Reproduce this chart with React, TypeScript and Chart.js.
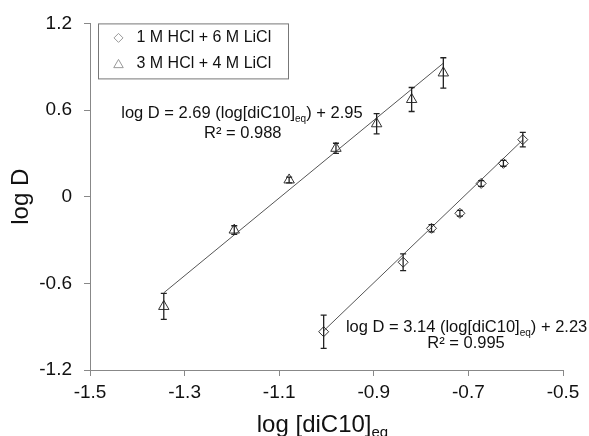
import React, { useEffect, useRef } from "react";
import { Chart, registerables } from "chart.js";

Chart.register(...registerables);

// 3 M HCl + 4 M LiCl (triangles)
const triX = [-1.344, -1.195, -1.079, -0.98, -0.894, -0.82, -0.753];
const triY = [-0.76, -0.231, 0.116, 0.335, 0.505, 0.673, 0.857];
const triErr = [0.09, 0.03, 0.02, 0.035, 0.07, 0.083, 0.105];

// 1 M HCl + 6 M LiCl (diamonds)
const diaX = [-1.006, -0.838, -0.778, -0.718, -0.673, -0.626, -0.585];
const diaY = [-0.935, -0.454, -0.219, -0.115, 0.092, 0.231, 0.395];
const diaErr = [0.115, 0.058, 0.025, 0.02, 0.02, 0.02, 0.05];

// Linear fits: log D = slope * log[diC10]eq + intercept
const triFit = { slope: 2.69, intercept: 2.95, r2: "0.988" };
const diaFit = { slope: 3.14, intercept: 2.23, r2: "0.995" };

const xTicks = [-1.5, -1.3, -1.1, -0.9, -0.7, -0.5];
const yTicks = [-1.2, -0.6, 0, 0.6, 1.2];

const legendLabels = ["1 M HCl + 6 M LiCl", "3 M HCl + 4 M LiCl"];

const FONT = "'Liberation Sans', Arial, Helvetica, sans-serif";

const toPoints = (xs: number[], ys: number[]) => xs.map((x, i) => ({ x, y: ys[i] }));

const fitLine = (xs: number[], fit: { slope: number; intercept: number }) => {
  const lo = Math.min(...xs);
  const hi = Math.max(...xs);
  return [
    { x: lo, y: fit.slope * lo + fit.intercept },
    { x: hi, y: fit.slope * hi + fit.intercept },
  ];
};

function drawTriangle(ctx: CanvasRenderingContext2D, x: number, y: number, r: number) {
  ctx.beginPath();
  for (let k = 0; k < 3; k++) {
    const a = -Math.PI / 2 + (k * 2 * Math.PI) / 3;
    const px = x + r * Math.cos(a);
    const py = y + r * Math.sin(a);
    if (k === 0) ctx.moveTo(px, py);
    else ctx.lineTo(px, py);
  }
  ctx.closePath();
  ctx.stroke();
}

function drawDiamond(ctx: CanvasRenderingContext2D, x: number, y: number, r: number) {
  ctx.beginPath();
  ctx.moveTo(x, y - r);
  ctx.lineTo(x + r, y);
  ctx.lineTo(x, y + r);
  ctx.lineTo(x - r, y);
  ctx.closePath();
  ctx.stroke();
}

// Text with an "eq" subscript: parts = [before, sub, after]
function drawSubText(
  ctx: CanvasRenderingContext2D,
  parts: [string, string, string],
  x: number,
  y: number,
  size: number,
  align: "left" | "center"
) {
  const subSize = Math.round(size * 0.62);
  ctx.font = `${size}px ${FONT}`;
  const w0 = ctx.measureText(parts[0]).width;
  const w2 = ctx.measureText(parts[2]).width;
  ctx.font = `${subSize}px ${FONT}`;
  const w1 = ctx.measureText(parts[1]).width;
  const total = w0 + w1 + w2;
  let sx = align === "center" ? x - total / 2 : x;
  ctx.textAlign = "left";
  ctx.textBaseline = "alphabetic";
  ctx.font = `${size}px ${FONT}`;
  ctx.fillText(parts[0], sx, y);
  sx += w0;
  ctx.font = `${subSize}px ${FONT}`;
  ctx.fillText(parts[1], sx, y + size * 0.22);
  sx += w1;
  ctx.font = `${size}px ${FONT}`;
  ctx.fillText(parts[2], sx, y);
}

const decorPlugin = {
  id: "decor",
  afterDatasetsDraw(chart: any) {
    const ctx: CanvasRenderingContext2D = chart.ctx;
    const xs = chart.scales.x;
    const ys = chart.scales.y;

    // error bars
    ctx.save();
    ctx.strokeStyle = "#222";
    ctx.lineWidth = 1.3;
    const bars: [number[], number[], number[]][] = [
      [triX, triY, triErr],
      [diaX, diaY, diaErr],
    ];
    bars.forEach(([bx, by, be]) => {
      bx.forEach((xv, i) => {
        const px = xs.getPixelForValue(xv);
        const top = ys.getPixelForValue(by[i] + be[i]);
        const bot = ys.getPixelForValue(by[i] - be[i]);
        ctx.beginPath();
        ctx.moveTo(px, top);
        ctx.lineTo(px, bot);
        ctx.moveTo(px - 3, top);
        ctx.lineTo(px + 3, top);
        ctx.moveTo(px - 3, bot);
        ctx.lineTo(px + 3, bot);
        ctx.stroke();
      });
    });
    ctx.restore();

    // fit equations
    ctx.save();
    ctx.fillStyle = "#111";
    const eqSize = 16.5;
    const fmt = (v: number) => v.toFixed(2);
    drawSubText(
      ctx,
      [`log D = ${fmt(triFit.slope)} (log[diC10]`, "eq", `) + ${fmt(triFit.intercept)}`],
      xs.getPixelForValue(-1.434),
      ys.getPixelForValue(0.545),
      eqSize,
      "left"
    );
    ctx.font = `${eqSize}px ${FONT}`;
    ctx.textAlign = "center";
    ctx.textBaseline = "alphabetic";
    ctx.fillText(`R² = ${triFit.r2}`, xs.getPixelForValue(-1.177), ys.getPixelForValue(0.405));
    drawSubText(
      ctx,
      [`log D = ${fmt(diaFit.slope)} (log[diC10]`, "eq", `) + ${fmt(diaFit.intercept)}`],
      xs.getPixelForValue(-0.959),
      ys.getPixelForValue(-0.94),
      eqSize,
      "left"
    );
    ctx.font = `${eqSize}px ${FONT}`;
    ctx.textAlign = "center";
    ctx.fillText(`R² = ${diaFit.r2}`, xs.getPixelForValue(-0.705), ys.getPixelForValue(-1.05));
    ctx.restore();

    // legend
    const area = chart.chartArea;
    ctx.save();
    const lx = area.left + 8.5;
    const ly = area.top + 0.5;
    ctx.strokeStyle = "#777";
    ctx.lineWidth = 1;
    ctx.strokeRect(lx, ly, 190, 55);
    ctx.strokeStyle = "#999";
    drawDiamond(ctx, lx + 20, ly + 14, 4.5);
    drawTriangle(ctx, lx + 20, ly + 41, 5.5);
    ctx.fillStyle = "#111";
    ctx.font = `16px ${FONT}`;
    ctx.textAlign = "left";
    ctx.textBaseline = "middle";
    ctx.fillText(legendLabels[0], lx + 38, ly + 14);
    ctx.fillText(legendLabels[1], lx + 38, ly + 40);
    ctx.restore();

    // axis titles
    ctx.save();
    ctx.fillStyle = "#111";
    ctx.font = `24px ${FONT}`;
    ctx.translate(21, (area.top + area.bottom) / 2);
    ctx.rotate(-Math.PI / 2);
    ctx.textAlign = "center";
    ctx.textBaseline = "middle";
    ctx.fillText("log D", 0, 0);
    ctx.restore();

    ctx.save();
    ctx.fillStyle = "#111";
    drawSubText(ctx, ["log [diC10]", "eq", ""], (area.left + area.right) / 2 - 4, chart.height - 4, 24, "center");
    ctx.restore();
  },
};

export default function App() {
  const canvasRef = useRef<HTMLCanvasElement | null>(null);

  useEffect(() => {
    const canvas = canvasRef.current;
    if (!canvas) return;
    const chart = new Chart(canvas, {
      type: "scatter",
      data: {
        datasets: [
          {
            label: "3 M HCl + 4 M LiCl",
            data: toPoints(triX, triY),
            pointStyle: "triangle",
            pointRadius: 6,
            borderColor: "#333",
            backgroundColor: "rgba(0,0,0,0)",
            borderWidth: 1,
            showLine: false,
          },
          {
            label: "1 M HCl + 6 M LiCl",
            data: toPoints(diaX, diaY),
            pointStyle: "rectRot",
            pointRadius: 5,
            borderColor: "#333",
            backgroundColor: "rgba(0,0,0,0)",
            borderWidth: 1,
            showLine: false,
          },
          {
            label: "fit 3 M",
            data: fitLine(triX, triFit),
            showLine: true,
            pointRadius: 0,
            borderColor: "#555",
            borderWidth: 1,
          },
          {
            label: "fit 1 M",
            data: fitLine(diaX, diaFit),
            showLine: true,
            pointRadius: 0,
            borderColor: "#555",
            borderWidth: 1,
          },
        ],
      },
      options: {
        animation: false,
        responsive: false,
        devicePixelRatio: 1,
        layout: { padding: { top: 23, right: 26, left: 0, bottom: 0 } },
        plugins: { legend: { display: false }, tooltip: { enabled: false } },
        scales: {
          x: {
            type: "linear",
            min: -1.5,
            max: -0.5,
            afterBuildTicks: (s: any) => {
              s.ticks = xTicks.map((v) => ({ value: v }));
            },
            afterFit: (s: any) => {
              s.height = 66;
            },
            grid: { drawOnChartArea: false, drawTicks: true, tickLength: 6, color: "#888" },
            border: { color: "#888", width: 1 },
            ticks: {
              color: "#111",
              padding: 5,
              maxRotation: 0,
              font: { family: FONT, size: 19 },
              callback: (v: any) => String(Number(Number(v).toFixed(1))),
            },
          },
          y: {
            type: "linear",
            min: -1.2,
            max: 1.2,
            afterBuildTicks: (s: any) => {
              s.ticks = yTicks.map((v) => ({ value: v }));
            },
            afterFit: (s: any) => {
              s.width = 90;
            },
            grid: { drawOnChartArea: false, drawTicks: true, tickLength: 6, color: "#888" },
            border: { color: "#888", width: 1 },
            ticks: {
              color: "#111",
              padding: 12,
              font: { family: FONT, size: 19 },
              callback: (v: any) => String(Number(Number(v).toFixed(1))),
            },
          },
        },
      },
      plugins: [decorPlugin],
    } as any);
    return () => chart.destroy();
  }, []);

  return (
    <div style={{ position: "absolute", left: 0, top: 0, width: 589, height: 436, background: "#fff" }}>
      <canvas ref={canvasRef} width={589} height={436} style={{ width: 589, height: 436 }} />
    </div>
  );
}
